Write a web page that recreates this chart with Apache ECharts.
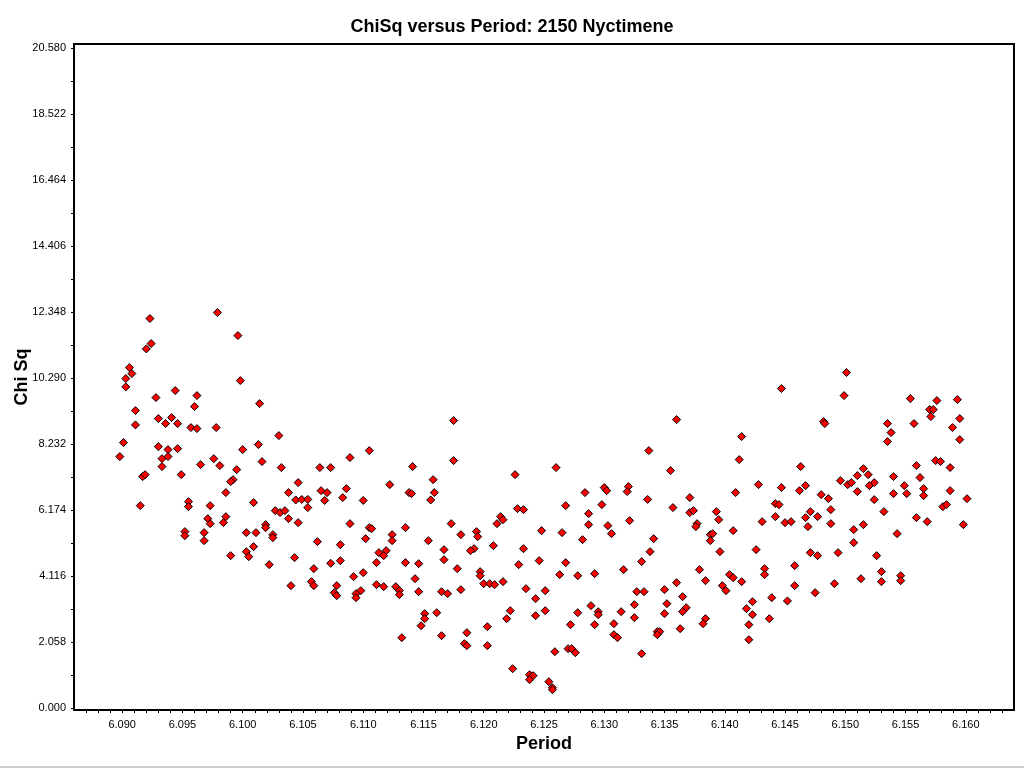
<!DOCTYPE html>
<html>
<head>
<meta charset="utf-8">
<script src="https://cdn.jsdelivr.net/npm/echarts@6/dist/echarts.min.js"></script>
<style>html,body{margin:0;padding:0;background:#fff}#c{width:1024px;height:768px}</style>
</head>
<body>
<div id="c"></div>
<script>
const periods = [
6.0923,6.0979,6.0996,6.0924,6.0920,6.0906,6.0908,6.0903,6.0903,6.0998,
6.0944,6.0928,6.0962,6.0960,6.1014,6.0911,6.0930,6.0941,6.0936,6.0946,
6.0911,6.0957,6.0962,6.0978,6.1030,6.0901,6.0930,6.0938,6.0946,6.1013,
6.1000,6.0898,6.0933,6.0938,6.0976,6.1016,6.0933,6.0965,6.0981,6.0995,
6.0949,6.0917,6.0919,6.0992,6.0990,6.0986,
6.0915,6.0955,6.0955,6.0973,6.1009,6.1027,6.1031,6.0971,6.0986,6.0973,
6.0984,6.1019,6.1019,6.0952,6.0952,6.0968,6.1003,6.1011,6.1025,6.1025,
6.0968,6.1009,6.1003,6.1005,6.0990,6.1022,
6.1175,6.1105,6.1089,6.1032,6.1064,6.1073,6.1141,6.1175,6.1046,6.1122,
6.1158,6.1038,6.1065,6.1070,6.1086,6.1138,6.1140,6.1159,6.1083,6.1044,
6.1049,6.1054,6.1068,6.1100,6.1156,
6.1054,6.1035,6.1038,6.1046,6.1089,6.1105,6.1107,6.1135,6.1173,6.1124,
6.1124,6.1102,6.1154,6.1062,6.1081,6.1167,6.1113,6.1119,6.1117,6.1043,
6.1081,6.1073,6.1111,6.1135,6.1146,6.1167,6.1059,6.1178,6.1100,6.1092,
6.1143,6.1057,6.1059,6.1040,6.1078,6.1111,6.1117,6.1127,6.1130,6.1130,
6.1146,6.1165,6.1170,6.1076,6.1078,6.1098,6.1094,6.1094,6.1151,6.1161,
6.1151,6.1148,6.1132,6.1165,
6.1226,6.1260,6.1284,6.1300,6.1302,6.1320,6.1319,
6.1228,6.1233,6.1268,6.1298,6.1214,6.1216,6.1211,6.1287,6.1287,6.1303,
6.1321,6.1306,6.1181,6.1194,6.1195,6.1248,6.1265,6.1282,6.1208,6.1233,
6.1192,6.1189,6.1246,6.1268,6.1229,6.1316,6.1197,6.1197,6.1263,6.1278,
6.1292,6.1200,6.1205,6.1209,6.1216,6.1181,6.1235,6.1251,6.1327,6.1243,
6.1222,6.1251,6.1289,6.1278,6.1295,6.1295,6.1314,6.1325,6.1325,6.1219,
6.1243,6.1203,6.1272,6.1292,6.1308,6.1186,6.1308,6.1311,6.1184,6.1186,
6.1203,6.1259,6.1270,6.1273,6.1276,6.1224,6.1238,6.1241,6.1238,6.1254,
6.1257,6.1257,
6.1447,6.1360,6.1414,6.1337,6.1412,6.1355,6.1463,6.1428,6.1447,6.1467,
6.1462,6.1409,6.1336,6.1371,
6.1357,6.1371,6.1374,6.1393,6.1395,6.1377,6.1376,6.1442,6.1445,6.1442,
6.1431,6.1450,6.1455,6.1467,6.1471,6.1477,6.1469,6.1407,6.1388,6.1390,
6.1388,6.1341,6.1338,6.1396,6.1426,6.1471,6.1477,6.1331,6.1379,6.1433,
6.1433,6.1458,6.1404,6.1407,6.1384,6.1414,6.1360,6.1398,6.1401,6.1458,
6.1333,6.1350,6.1475,6.1365,6.1439,6.1423,6.1452,6.1352,6.1368,6.1365,
6.1418,6.1350,6.1423,6.1384,6.1382,6.1437,6.1420,6.1363,6.1344,6.1346,
6.1344,6.1420,6.1331,
6.1501,6.1499,6.1554,6.1576,6.1593,6.1570,6.1573,6.1571,6.1595,6.1589,
6.1595,6.1482,6.1483,6.1535,6.1538,6.1535,6.1557,6.1559,6.1575,6.1579,
6.1587,6.1515,6.1510,6.1519,6.1496,6.1502,6.1505,6.1520,6.1524,6.1540,
6.1562,6.1549,6.1510,6.1480,6.1486,6.1540,6.1551,6.1565,6.1565,6.1587,
6.1524,6.1601,
6.1488,6.1488,6.1532,6.1559,6.1568,6.1581,6.1584,6.1598,6.1507,6.1515,
6.1543,6.1507,6.1494,6.1526,6.1530,6.1546,6.1546,6.1513,6.1530,6.1491
];
const chiSq = [
12.147,12.334,11.616,11.367,11.201,10.618,10.430,10.275,10.016,10.212,
9.900,9.682,9.744,9.401,9.494,9.276,9.027,9.058,8.871,8.871,
8.830,8.746,8.715,8.746,8.496,8.278,8.153,8.059,8.090,8.215,
8.059,7.841,7.778,7.841,7.778,7.685,7.529,7.591,7.560,7.435,
7.279,7.217,7.279,7.123,7.061,6.718,
6.312,6.437,6.281,6.312,6.406,6.156,6.094,5.906,5.969,5.750,
5.782,5.719,5.626,5.501,5.376,5.470,5.470,5.470,5.407,5.314,
5.220,5.033,4.877,4.721,4.752,4.471,
8.964,8.028,7.810,7.498,7.498,7.498,7.529,7.716,7.030,6.967,
7.123,6.718,6.780,6.718,6.842,6.718,6.686,6.718,6.562,6.490,
6.505,6.505,6.474,6.474,6.490,
6.250,6.156,5.906,5.782,5.750,5.626,5.594,5.626,5.750,5.407,
5.220,5.282,5.220,5.189,5.095,4.939,4.846,4.908,4.752,4.690,
4.596,4.515,4.534,4.534,4.502,4.627,4.346,4.346,4.222,4.097,
4.034,3.941,3.816,3.816,3.816,3.847,3.785,3.785,3.660,3.535,
3.629,3.629,3.566,3.597,3.504,3.660,3.566,3.441,2.942,2.973,
2.786,2.568,2.193,2.256,
7.279,7.498,6.718,6.874,6.780,6.905,6.749,
6.218,6.187,6.312,6.343,5.969,5.875,5.750,6.062,5.719,5.688,
5.844,5.438,5.407,5.501,5.345,5.532,5.470,5.251,5.064,4.970,
4.970,4.908,4.596,4.534,4.471,4.315,4.253,4.128,4.159,4.128,
4.190,3.878,3.878,3.847,3.941,3.691,3.722,3.660,3.629,3.410,
3.036,3.036,3.192,2.973,3.005,2.911,3.005,3.223,2.817,2.786,
2.880,2.537,2.599,2.599,2.630,2.349,2.287,2.193,2.006,1.944,
1.944,1.757,1.850,1.850,1.725,1.226,1.039,1.008,0.883,0.821,
0.633,0.571,
9.963,8.995,8.465,8.028,7.747,7.404,7.529,6.967,6.874,6.936,
6.780,6.718,6.505,6.562,
6.250,6.094,6.156,6.125,5.875,5.750,5.657,6.374,6.343,5.969,
5.813,5.782,5.813,5.938,6.125,5.969,5.657,5.532,5.407,5.438,
5.220,5.282,4.877,4.877,4.939,4.846,4.752,4.565,4.315,4.346,
4.159,4.440,4.159,4.065,3.972,3.941,3.909,3.816,3.660,3.816,
3.629,3.691,3.597,3.473,3.441,3.317,3.339,3.254,3.129,3.005,
3.098,2.942,2.911,2.786,2.630,2.786,2.599,2.474,2.381,2.381,
2.287,2.131,1.694,
10.462,9.744,9.651,9.588,9.619,9.307,9.307,9.089,9.027,8.746,
8.371,8.933,8.871,8.871,8.590,8.309,8.871,7.560,7.716,7.685,
7.498,7.466,7.248,7.279,7.092,6.967,7.030,6.936,7.030,7.217,
7.186,6.936,6.749,6.655,6.530,6.686,6.686,6.842,6.624,6.780,
6.499,6.530,
6.187,5.750,6.125,5.938,5.813,6.281,6.343,5.719,5.563,5.719,
5.438,5.157,4.846,4.752,4.253,4.128,3.972,4.034,3.941,3.878
];
const yTickLabels = [0.000,2.058,4.116,6.174,8.232,10.290,12.348,14.406,16.464,18.522,20.580];
const xTickLabels = [6.090,6.095,6.100,6.105,6.110,6.115,6.120,6.125,6.130,6.135,6.140,6.145,6.150,6.155,6.160];

const yMinor = [];
for (let i = 0; i < yTickLabels.length; i++) {
  yMinor.push(yTickLabels[i]);
  if (i < yTickLabels.length - 1) yMinor.push((yTickLabels[i] + yTickLabels[i + 1]) / 2);
}
const xMinor = [];
for (let k = 6087; k <= 6163; k++) xMinor.push(k / 1000);

const points = periods.map((p, i) => [p, chiSq[i]]);

const chart = echarts.init(document.getElementById('c'), null, {renderer: 'canvas'});
const font = '"Liberation Sans", Arial, sans-serif';
chart.setOption({
  animation: false,
  backgroundColor: '#ffffff',
  textStyle: {fontFamily: font},
  title: {
    text: 'ChiSq versus Period: 2150 Nyctimene',
    left: 'center', top: 18, padding: 0,
    textStyle: {fontFamily: font, fontSize: 18, fontWeight: 'bold', color: '#000'}
  },
  grid: {left: 74, right: 10, top: 44, bottom: 58, containLabel: false, outerBoundsMode: 'none',
         show: true, borderColor: '#000', borderWidth: 2, backgroundColor: '#fff'},
  xAxis: {
    type: 'value', min: 6.086, max: 6.164,
    name: 'Period', nameLocation: 'middle', nameGap: 25, nameMoveOverlap: false,
    nameTextStyle: {fontFamily: font, fontSize: 18, fontWeight: 'bold', color: '#000'},
    axisLine: {show: true, onZero: false, lineStyle: {color: '#000', width: 2}},
    axisTick: {show: true, length: 3, customValues: xMinor, lineStyle: {color: '#000', width: 1}},
    axisLabel: {customValues: xTickLabels, formatter: v => v.toFixed(3), fontFamily: font, fontSize: 11, color: '#000', margin: 9},
    splitLine: {show: false}
  },
  yAxis: {
    type: 'value', min: -0.062, max: 20.71,
    name: 'Chi Sq', nameLocation: 'middle', nameGap: 43, nameMoveOverlap: false,
    nameTextStyle: {fontFamily: font, fontSize: 18, fontWeight: 'bold', color: '#000'},
    axisLine: {show: true, onZero: false, lineStyle: {color: '#000', width: 2}},
    axisTick: {show: true, length: 3, customValues: yMinor, lineStyle: {color: '#000', width: 1}},
    axisLabel: {customValues: yTickLabels, formatter: v => v.toFixed(3), fontFamily: font, fontSize: 11, color: '#000', margin: 8},
    splitLine: {show: false}
  },
  graphic: [{
    type: 'line', shape: {x1: 0, y1: 767, x2: 1024, y2: 767},
    style: {stroke: '#a0a0a0', lineWidth: 1}, silent: true
  }],
  series: [{
    type: 'scatter',
    data: points,
    symbol: 'diamond',
    symbolSize: 8,
    itemStyle: {color: '#ff0000', borderColor: '#000', borderWidth: 1, opacity: 1}
  }]
});
</script>
</body>
</html>
